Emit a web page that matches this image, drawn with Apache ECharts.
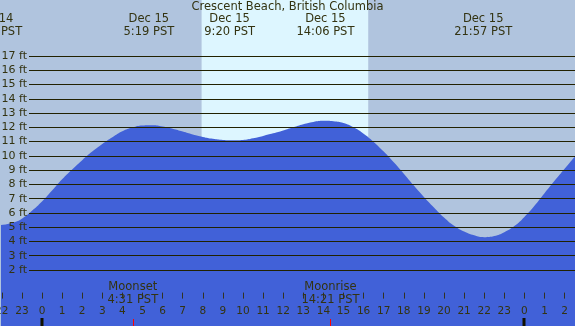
<!DOCTYPE html>
<html lang="en">
<head>
  <meta charset="UTF-8">
  <title>Crescent Beach tide</title>
  <style>
    html, body { margin: 0; padding: 0; }
    #main { width: 575px; height: 326px; }
  </style>
</head>
<body>
  <div id="main"></div>
  <script src="https://cdn.jsdelivr.net/npm/echarts@6/dist/echarts.min.js"></script>
  <script>
    // hours from Dec 15 00:00 PST
    var hours = [-2.1, -1.5, -1, -0.5, 0, 0.5, 1, 1.5, 2, 2.5, 3, 3.5, 4, 4.5, 5, 5.5, 6, 6.5, 7, 7.5,
      8, 8.5, 9, 9.5, 10, 10.5, 11, 11.5, 12, 12.5, 13, 13.5, 14, 14.5, 15, 15.5, 16, 16.5, 17, 17.5,
      18, 18.5, 19, 19.5, 20, 20.5, 21, 21.5, 22, 22.5, 23, 23.5, 24, 24.5, 25, 25.5, 26, 26.6];
    var heights = [5.15, 5.3, 5.6, 6.15, 6.8, 7.57, 8.36, 9.05, 9.7, 10.3, 10.83, 11.3, 11.72, 11.98, 12.12, 12.14, 12.05, 11.9, 11.7, 11.5,
      11.33, 11.2, 11.12, 11.1, 11.12, 11.24, 11.4, 11.58, 11.78, 12.0, 12.22, 12.38, 12.46, 12.43, 12.3, 12.0, 11.55, 10.98, 10.3, 9.55,
      8.75, 7.92, 7.12, 6.38, 5.68, 5.1, 4.7, 4.43, 4.3, 4.38, 4.65, 5.08, 5.72, 6.5, 7.38, 8.25, 9.1, 10.1];

    // high / low tide labels
    var extremeHours = [-2.43, 5.317, 9.333, 14.1, 21.95];
    var extremeLabels = ['Dec 14\n21:34 PST', 'Dec 15\n5:19 PST', 'Dec 15\n9:20 PST', 'Dec 15\n14:06 PST', 'Dec 15\n21:57 PST'];

    // moon events
    var moonHours = [4.517, 14.35];
    var moonLabels = ['Moonset\n4:31 PST', 'Moonrise\n14:21 PST'];

    var midnights = [0, 24];
    var sunrise = 7.94, sunset = 16.23;

    var ftTicks = [2, 17];

    var textColor = '#333311';
    var font = 'DejaVu Sans';

    var myChart = echarts.init(document.getElementById('main'));

    var tide = [];
    for (var i = 0; i < hours.length; i++) tide.push([hours[i], heights[i]]);

    function labelItem(list, yTop) {
      return function (params, api) {
        var x = api.coord([api.value(0), 0])[0];
        return {
          type: 'text',
          x: x,
          y: yTop,
          style: {
            text: list[params.dataIndex],
            fill: textColor,
            font: '11.5px "' + font + '"',
            align: 'center',
            verticalAlign: 'top',
            lineHeight: 13
          }
        };
      };
    }

    option = {
      backgroundColor: '#b0c4de',
      animation: false,
      title: {
        text: 'Crescent Beach, British Columbia',
        left: 'center',
        top: 1,
        padding: 0,
        textStyle: { color: textColor, fontSize: 11.5, fontWeight: 'normal', fontFamily: font }
      },
      grid: [
        { left: 1.8, right: 0.35, top: 0, bottom: 0, outerBoundsMode: 'none', containLabel: false },
        { left: 29, right: 0, top: 56, bottom: 56, outerBoundsMode: 'none', containLabel: false }
      ],
      xAxis: [{
        type: 'value', gridIndex: 0, min: -2, max: 26.5, interval: 1, z: 10,
        axisLine: { show: false },
        splitLine: { show: false },
        axisTick: { inside: true, length: 6, lineStyle: { color: '#333322' } },
        axisLabel: {
          inside: true, margin: 9, color: textColor, fontSize: 10.5, fontFamily: font,
          showMaxLabel: false, hideOverlap: false,
          formatter: function (v) { return String(((v % 24) + 24) % 24); }
        }
      }, {
        type: 'value', gridIndex: 1, min: 0, max: 1, show: false
      }],
      yAxis: [{
        type: 'value', gridIndex: 0, min: -1.92, max: 20.92, show: false
      }, {
        type: 'value', gridIndex: 1, min: ftTicks[0], max: ftTicks[1], interval: 1, z: 10,
        axisLine: { show: false },
        axisTick: { show: false },
        axisLabel: { margin: 2, color: textColor, fontSize: 11, fontFamily: font, formatter: '{value} ft', hideOverlap: false },
        splitLine: { lineStyle: { color: '#222200', width: 1 } }
      }],
      series: [{
        type: 'line',
        xAxisIndex: 0, yAxisIndex: 0,
        data: tide,
        smooth: 0.5,
        symbol: 'none',
        clip: false,
        lineStyle: { width: 0 },
        areaStyle: { color: '#4161d8', opacity: 1, origin: 'start' },
        markArea: {
          silent: true,
          itemStyle: { color: '#ddf6ff' },
          data: [[{ xAxis: sunrise }, { xAxis: sunset }]]
        }
      }, {
        type: 'line', xAxisIndex: 1, yAxisIndex: 1, data: []
      }, {
        type: 'custom', xAxisIndex: 0, yAxisIndex: 0, z: 12,
        data: extremeHours.map(function (h) { return [h, 0]; }),
        renderItem: labelItem(extremeLabels, 13)
      }, {
        type: 'custom', xAxisIndex: 0, yAxisIndex: 0, z: 12,
        data: moonHours.map(function (h) { return [h, 0]; }),
        renderItem: labelItem(moonLabels, 280.5)
      }, {
        // thick midnight ticks
        type: 'custom', xAxisIndex: 0, yAxisIndex: 0, z: 12,
        data: midnights.map(function (h) { return [h, 0]; }),
        renderItem: function (params, api) {
          var x = Math.round(api.coord([api.value(0), 0])[0]);
          return { type: 'rect', shape: { x: x - 1.5, y: 318, width: 3, height: 8 }, style: { fill: '#111100' } };
        }
      }, {
        // moon event ticks
        type: 'custom', xAxisIndex: 0, yAxisIndex: 0, z: 12,
        data: moonHours.map(function (h) { return [h, 0]; }),
        renderItem: function (params, api) {
          var x = Math.round(api.coord([api.value(0), 0])[0]) + 0.5;
          return { type: 'line', shape: { x1: x, y1: 319, x2: x, y2: 326 }, style: { stroke: '#ff0000', lineWidth: 1 } };
        }
      }]
    };

    myChart.setOption(option);
  </script>
</body>
</html>
